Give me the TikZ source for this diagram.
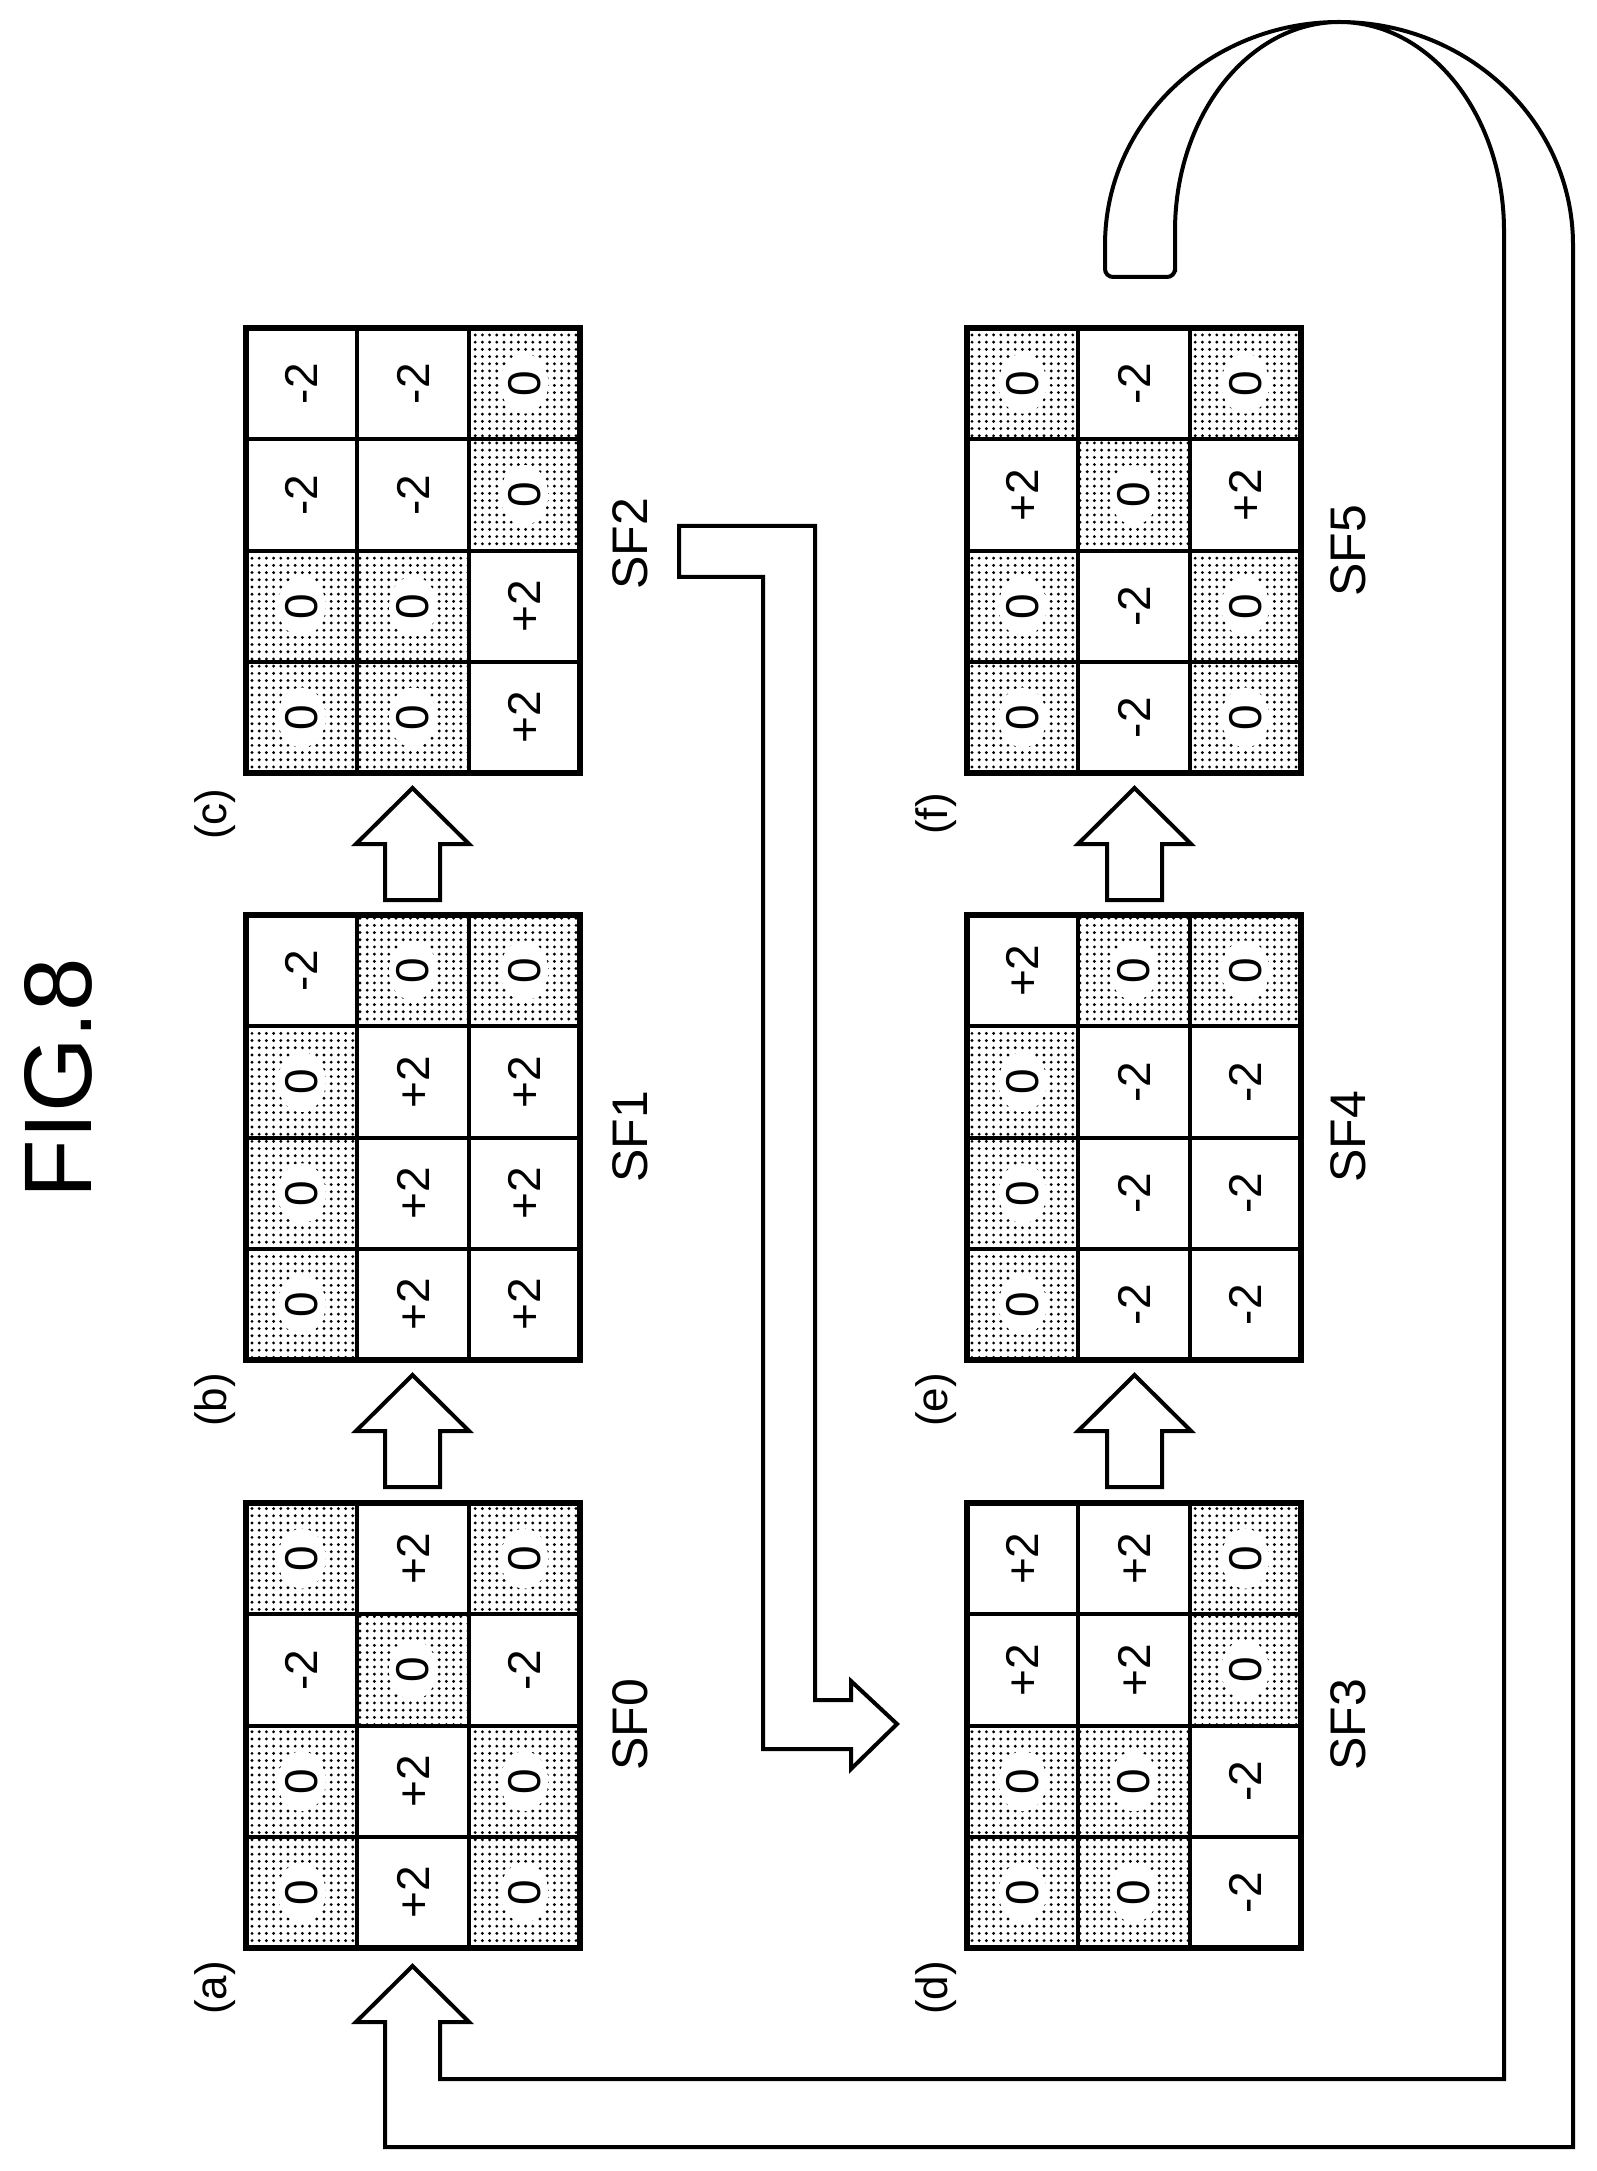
\documentclass[tikz,border=0pt]{standalone}
\usepackage{fontspec}
\setmainfont{Liberation Sans}
\usetikzlibrary{patterns.meta,shapes.geometric}
\tikzset{
 gcw/.style={draw,line width=2pt,minimum width=55.6pt,minimum height=55.6pt,inner sep=0pt},
 gcs/.style={gcw,pattern={Dots[distance=3.6pt,radius=0.8pt]}},
 val/.style={inner sep=0pt,font=\fontsize{23}{23}\selectfont},
 halo/.style={val,ellipse,fill=white,minimum width=24pt,minimum height=30pt},
 frame/.style={draw,line width=2.6pt},
 blk/.style={draw,line width=2pt,line join=miter,fill=white},
 lab/.style={rotate=90,font=\fontsize{22}{22}\selectfont},
 sf/.style={rotate=90,font=\fontsize{25}{25}\selectfont},
}
\newcommand\mygrid[4]{%
 \foreach \s/\v [count=\i from 0] in {#4}{
   \pgfmathtruncatemacro\rr{int(\i/3)}
   \pgfmathtruncatemacro\cc{mod(\i,3)}
   \node[gc\s] (#1-\i) at ({#2+(\cc+0.5)*111.3},{#3+(\rr+0.5)*111.3}) {};
   \if s\s \node[halo] at (#1-\i) {\rotatebox{90}{\v}};\else \node[val] at (#1-\i) {\rotatebox{90}{\v}};\fi
 }
 \draw[frame] (#2,#3) rectangle ++(334,445);
}
\newcommand\myup[2]{%
 \draw[blk] ({#1-27.5},{#2+126}) -- ({#1-27.5},{#2+70}) -- ({#1-56.5},{#2+70}) -- (#1,{#2+14})
  -- ({#1+56.5},{#2+70}) -- ({#1+27.5},{#2+70}) -- ({#1+27.5},{#2+126}) -- cycle;
}
\begin{document}
\begin{tikzpicture}[x=0.5pt,y=-0.5pt]
\useasboundingbox (0,0) rectangle (1596,2171);
\node[rotate=90,font=\fontsize{48}{48}\selectfont] (fig) at (58,1078) {FIG.8};
% left column
\mygrid{c}{246}{328}{w/-2,w/-2,s/0,w/-2,w/-2,s/0,s/0,s/0,w/+2,s/0,s/0,w/+2}
\mygrid{b}{246}{915}{w/-2,s/0,s/0,s/0,w/+2,w/+2,s/0,w/+2,w/+2,s/0,w/+2,w/+2}
\mygrid{a}{246}{1503}{s/0,w/+2,s/0,w/-2,s/0,w/-2,s/0,w/+2,s/0,s/0,w/+2,s/0}
% right column
\mygrid{f}{967}{328}{s/0,w/-2,s/0,w/+2,s/0,w/+2,s/0,w/-2,s/0,s/0,w/-2,s/0}
\mygrid{e}{967}{915}{w/+2,s/0,s/0,s/0,w/-2,w/-2,s/0,w/-2,w/-2,s/0,w/-2,w/-2}
\mygrid{d}{967}{1503}{w/+2,w/+2,s/0,w/+2,w/+2,s/0,s/0,s/0,w/-2,s/0,s/0,w/-2}
% labels
\node[lab] (la) at (215,1988) {(a)};
\node[lab] (lb) at (215,1400) {(b)};
\node[lab] (lc) at (215,814) {(c)};
\node[lab] (ld) at (936,1988) {(d)};
\node[lab] (le) at (936,1400) {(e)};
\node[lab] (lf) at (936,814) {(f)};
\node[sf] (sf0) at (630,1725) {SF0};
\node[sf] (sf1) at (630,1137) {SF1};
\node[sf] (sf2) at (630,544) {SF2};
\node[sf] (sf3) at (1348,1725) {SF3};
\node[sf] (sf4) at (1348,1137) {SF4};
\node[sf] (sf5) at (1348,551) {SF5};
% block arrows between grids
\myup{412.5}{1361}
\myup{412.5}{774}
\myup{1134.5}{1361}
\myup{1134.5}{774}
% SF2 -> (d)
\draw[blk] (679,526) -- (815,526) -- (815,1700) -- (851,1700) -- (851,1681) -- (897,1724)
  -- (851,1769) -- (851,1749) -- (763,1749) -- (763,577) -- (679,577) -- cycle;
% return arrow (f) -> (a)
\draw[blk,fill=none] (385,2147) -- (385,2022) -- (356,2022) -- (412.5,1966) -- (469,2022) -- (440,2022)
  -- (440,2079) -- (1504,2079) -- (1504,231) arc[start angle=0,end angle=-180,x radius=164.5,y radius=209]
  -- (1175,272) [rounded corners=4pt] -- (1175,277) -- (1105,277) [sharp corners] -- (1105,245)
  arc[start angle=180,end angle=360,x radius=234,y radius=223] -- (1573,2147) -- cycle;
\end{tikzpicture}
\end{document}
